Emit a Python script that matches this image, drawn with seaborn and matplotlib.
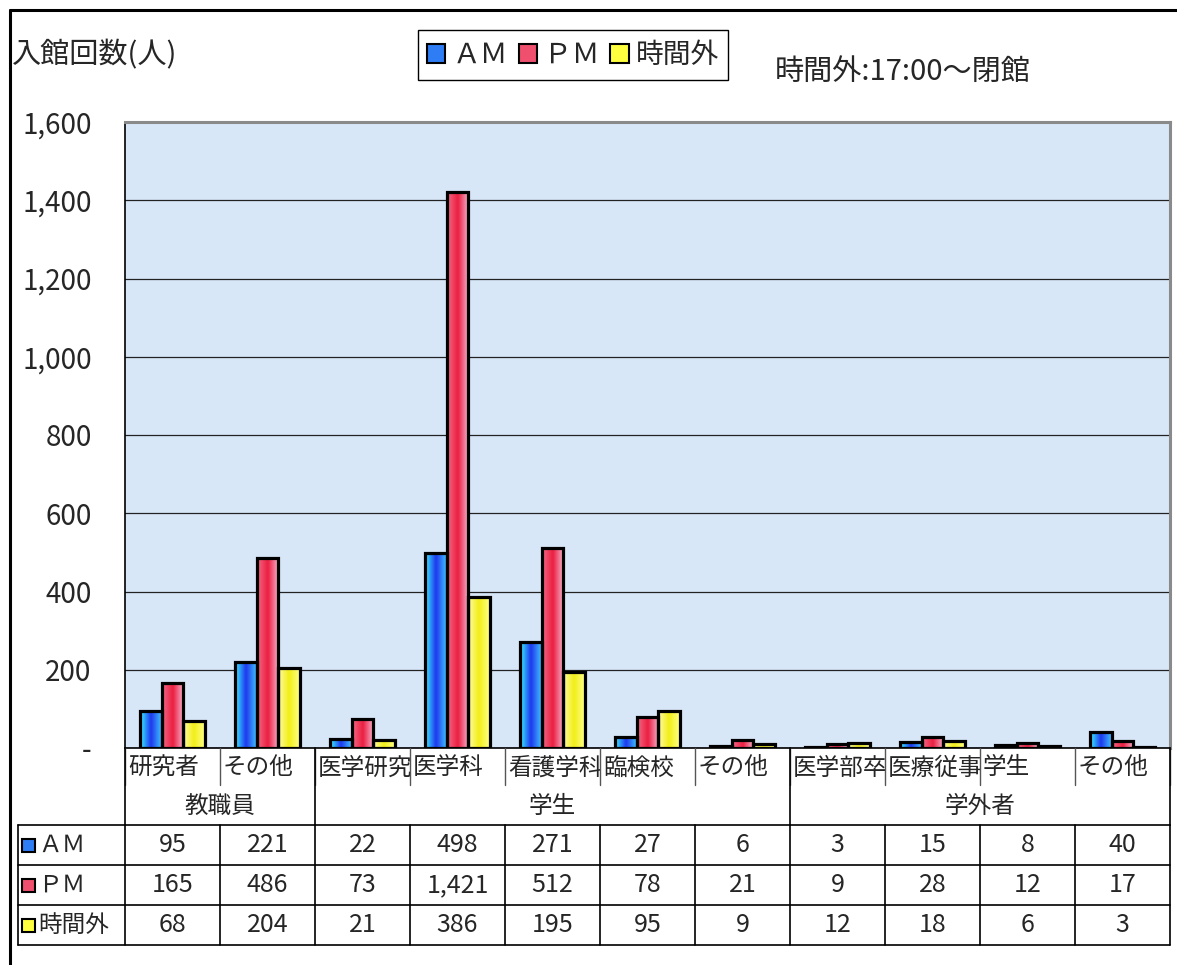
import matplotlib
matplotlib.use('Agg')
import matplotlib.pyplot as plt
import matplotlib.transforms as mtransforms
from matplotlib.patches import Rectangle, Patch
from matplotlib.colors import LinearSegmentedColormap
import numpy as np
import pandas as pd
import seaborn as sns

# chart data
categories = ['研究者', 'その他', '医学研究', '医学科', '看護学科', '臨検校',
              'その他', '医学部卒', '医療従事', '学生', 'その他']
groups = ['教職員', '学生', '学外者']
group_spans = [(0, 1), (2, 6), (7, 10)]
periods = ['ＡＭ', 'ＰＭ', '時間外']
am = [95, 221, 22, 498, 271, 27, 6, 3, 15, 8, 40]
pm = [165, 486, 73, 1421, 512, 78, 21, 9, 28, 12, 17]
off_hours = [68, 204, 21, 386, 195, 95, 9, 12, 18, 6, 3]
yticks = [0, 200, 400, 600, 800, 1000, 1200, 1400, 1600]
ytick_labels = ['-', '200', '400', '600', '800', '1,000', '1,200', '1,400', '1,600']

series = [am, pm, off_hours]
rows = []
for period, values in zip(periods, series):
    for i, v in enumerate(values):
        rows.append({'pos': i, 'period': period, 'count': v})
df = pd.DataFrame(rows)

solid = {'ＡＭ': '#2f7df5', 'ＰＭ': '#f0506e', '時間外': '#ffff40'}
gradients = {
    'ＡＭ': ['#38f4ff', '#1f36ee', '#3fc4ff'],
    'ＰＭ': ['#f36a88', '#ec1e40', '#f7b4cf'],
    '時間外': ['#fffca8', '#f2ee18', '#ffff86'],
}

sns.set_style('white')
plt.rcParams['font.family'] = ['Noto Sans CJK JP', 'DejaVu Sans']

W, H = 1177, 965
fig = plt.figure(figsize=(W / 100, H / 100), dpi=100)
ax = fig.add_axes([125 / W, 1 - 748 / H, (1170 - 125) / W, 626 / H])
ax.set_facecolor('#d8e7f8')

sns.barplot(data=df, x='pos', y='count', hue='period', hue_order=periods,
            palette=solid, width=0.69, gap=0, edgecolor='black', linewidth=2.3,
            legend=False, ax=ax, zorder=3)

# gradient fill inside each bar
n = len(categories)
bars = [p for p in ax.patches if isinstance(p, Rectangle)]
for k, bar in enumerate(bars):
    period = periods[k // n]
    cmap = LinearSegmentedColormap.from_list(period, gradients[period])
    x0, y0 = bar.get_x(), bar.get_y()
    w, h = bar.get_width(), bar.get_height()
    if h <= 0:
        continue
    grad = np.linspace(0, 1, 64).reshape(1, -1)
    ax.imshow(grad, extent=[x0, x0 + w, y0, y0 + h], cmap=cmap, aspect='auto',
              origin='lower', zorder=3.5, interpolation='bicubic')
    bar.set_facecolor('none')
    bar.set_zorder(4)

ax.set_xlim(-0.5, n - 0.5)
ax.set_ylim(0, 1600)
ax.set_yticks(yticks)
ax.set_yticklabels(ytick_labels, fontsize=20)
ax.set_xticks([])
ax.set_xlabel('')
ax.set_ylabel('')
ax.tick_params(axis='y', length=0, pad=24)
ax.yaxis.grid(True, color='#222222', linewidth=0.9)
ax.set_axisbelow(True)
for side in ['top', 'right']:
    ax.spines[side].set_color('#8a8a8a')
    ax.spines[side].set_linewidth(2.2)
ax.spines['left'].set_color('black')
ax.spines['left'].set_linewidth(1.2)
ax.spines['bottom'].set_color('black')
ax.spines['bottom'].set_linewidth(1.2)

# data table under the axis
trans = mtransforms.blended_transform_factory(ax.transData, ax.transAxes)


def yax(p):
    return (748 - p) / 626


xl = -0.5 - (125 - 18) / 95
xr = n - 0.5
y_cat, y_grp, y_r1, y_r2, y_r3, y_r4 = [yax(p) for p in (748, 788, 825, 865, 905, 945)]


def line(xs, ys, color='black', lw=1.2):
    ax.plot(xs, ys, color=color, lw=lw, transform=trans, clip_on=False, zorder=5)


for yy in (y_r1, y_r2, y_r3, y_r4):
    line([xl, xr], [yy, yy])
line([xl, xl], [y_r1, y_r4])
for i in range(n + 1):
    xb = i - 0.5
    line([xb, xb], [y_r1, y_r4])
    line([xb, xb], [y_cat, y_grp + 0.004], color='#555555', lw=1.0)
for a, b in group_spans:
    line([a - 0.5, a - 0.5], [y_cat, y_r1])
line([xr, xr], [y_cat, y_r1])

for i, cat in enumerate(categories):
    t = ax.text(i - 0.47, (y_cat + y_grp) / 2, cat, transform=trans, ha='left',
                va='center', fontsize=17, clip_on=True)
    t.set_clip_path(Rectangle((i - 0.5, y_grp), 1.0, y_cat - y_grp, transform=trans))

for g, (a, b) in zip(groups, group_spans):
    ax.text((a + b) / 2, (y_grp + y_r1) / 2, g, transform=trans, ha='center',
            va='center', fontsize=17, clip_on=False)

row_tops = [y_r1, y_r2, y_r3]
sq_w = 13 / 95
sq_h = 13 / 626
for period, values, top in zip(periods, series, row_tops):
    mid = top - (40 / 626) / 2
    ax.add_patch(Rectangle((-0.5 - (125 - 22) / 95, mid - sq_h / 2), sq_w, sq_h,
                           transform=trans, clip_on=False, facecolor=solid[period],
                           edgecolor='black', linewidth=1.5, zorder=6))
    ax.text(-0.5 - (125 - 38) / 95, mid, period, transform=trans, ha='left',
            va='center', fontsize=17, clip_on=False)
    for i, v in enumerate(values):
        ax.text(i, mid, f'{v:,}', transform=trans, ha='center', va='center',
                fontsize=18, clip_on=False)

# legend and titles
handles = [Patch(facecolor=solid[p], edgecolor='black', linewidth=1.5, label=p) for p in periods]
fig.legend(handles=handles, loc='center', bbox_to_anchor=(573 / W, 1 - 55 / H), ncol=3,
           fontsize=20, frameon=True, fancybox=False, edgecolor='black', framealpha=1,
           handlelength=0.65, handleheight=0.65, handletextpad=0.25, columnspacing=0.4,
           borderpad=0.35, borderaxespad=0)

fig.text(12 / W, 1 - 55 / H, '入館回数(人)', ha='left', va='center', fontsize=21)
fig.text(775 / W, 1 - 72 / H, '時間外:17:00～閉館', ha='left', va='center', fontsize=21)

# outer frame
fig.add_artist(plt.Line2D([10 / W, 10 / W], [0, 1 - 10 / H], color='black', lw=2.2))
fig.add_artist(plt.Line2D([10 / W, 1], [1 - 10 / H, 1 - 10 / H], color='black', lw=2.2))

fig.savefig('out.png', dpi=100)
